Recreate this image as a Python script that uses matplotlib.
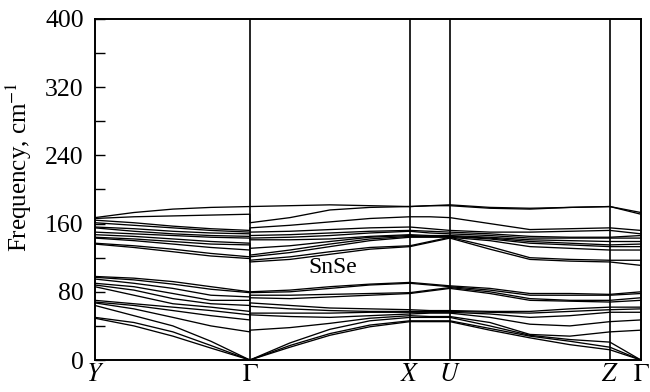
import matplotlib
matplotlib.use("Agg")
import matplotlib.pyplot as plt
import numpy as np

plt.rcParams['font.family'] = ['Liberation Serif', 'DejaVu Serif']
plt.rcParams['mathtext.fontset'] = 'stix'

# path coordinates of the sample points (Y .. G- | G+ .. X | mid | U .. Z | G)
kpath = [0, 39, 78, 116, 155, 155, 195, 235, 275, 315, 335, 355, 395, 435, 475, 515, 546]
sym_pos = [0, 155, 315, 355, 515, 546]
sym_labels = [r'$Y$', r'$\Gamma$', r'$X$', r'$U$', r'$Z$', r'$\Gamma$']

lower_bands = [
    [49, 40, 28, 14, 0,   0, 15, 29, 39, 45,  45, 45,  35, 26, 18, 12,  0],
    [50, 44, 33, 17, 0,   0, 17, 31, 41, 46,  46, 46,  37, 28, 22, 15,  0],
    [64, 52, 40, 22, 0,   0, 20, 36, 46, 50,  50, 50,  40, 29, 24, 21,  0],
    [67, 60, 50, 40, 33,  35, 38, 43, 49, 52, 51, 51,  44, 30, 28, 33, 35],
    [68, 64, 58, 52, 47,  53, 51, 50, 52, 54, 55, 55,  50, 42, 40, 45, 47],
    [70, 66, 62, 58, 53,  55, 55, 55, 56, 56, 56, 56,  54, 50, 52, 56, 56],
    [86, 76, 66, 62, 57,  63, 60, 58, 57, 57, 57, 57,  56, 55, 57, 59, 60],
    [88, 82, 72, 66, 64,  67, 64, 61, 60, 59, 58, 58,  57, 57, 60, 62, 62],
    [90, 86, 78, 70, 70,  73, 72, 74, 76, 78, 81, 84,  78, 70, 69, 68, 70],
    [95, 90, 84, 76, 74,  76, 76, 77, 78, 79, 82, 85,  80, 72, 70, 70, 73],
    [97, 94, 89, 83, 79,  79, 80, 84, 88, 90, 88, 86,  82, 76, 76, 76, 78],
    [98, 96, 92, 86, 80,  80, 82, 86, 89, 91, 89, 87,  84, 78, 78, 77, 80],
]

upper_bands = [
    [136, 132, 127, 122, 119,  115, 118, 124, 130, 133,  138, 143,  130, 118, 116, 115, 111],
    [137, 134, 130, 125, 121,  117, 121, 127, 132, 134,  139, 144,  133, 120, 118, 117, 117],
    [143, 140, 136, 132, 129,  121, 126, 133, 140, 144,  144, 144,  140, 133, 131, 129, 129],
    [144, 142, 139, 136, 135,  123, 129, 136, 142, 145,  145, 145,  142, 137, 135, 133, 133],
    [147, 145, 142, 139, 137,  131, 134, 139, 144, 146,  145, 145,  143, 139, 137, 135, 136],
    [150, 148, 146, 144, 143,  141, 141, 142, 145, 147,  146, 146,  144, 141, 140, 139, 139],
    [155, 151, 148, 146, 145,  143, 144, 146, 149, 151,  149, 148,  146, 143, 143, 143, 143],
    [156, 154, 151, 149, 148,  146, 147, 149, 151, 152,  151, 150,  148, 145, 144, 144, 146],
    [161, 158, 155, 152, 150,  150, 151, 153, 155, 156,  154, 152,  150, 150, 151, 152, 148],
    [164, 161, 157, 154, 152,  155, 158, 162, 166, 168,  168, 167,  160, 153, 154, 155, 152],
    [166, 168, 169, 170, 171,  161, 167, 176, 179, 180,  181, 181,  178, 177, 179, 180, 171],
    [167, 173, 177, 179, 180,  180, 181, 182, 181, 180,  181, 182,  179, 178, 179, 180, 173],
]

fig = plt.figure(figsize=(6.5, 3.92), dpi=100)
ax = fig.add_axes([0.146, 0.0816, 0.840, 0.870])

for band in lower_bands + upper_bands:
    ax.plot(kpath, band, color='black', lw=0.95, solid_joinstyle='round')

for xp in sym_pos[1:-1]:
    ax.axvline(xp, color='black', lw=1.2)

ax.set_xlim(sym_pos[0], sym_pos[-1])
ax.set_ylim(0, 400)

ax.set_xticks(sym_pos)
ax.set_xticklabels(sym_labels, fontsize=18.5)
ax.tick_params(axis='x', length=0, pad=3)

ax.set_yticks(np.arange(0, 401, 40))
ax.set_yticklabels([str(v) if v % 80 == 0 else '' for v in range(0, 401, 40)], fontsize=18.5)
ax.tick_params(axis='y', direction='in', length=7, width=1.0, pad=8)

for s in ax.spines.values():
    s.set_linewidth(1.4)

ax.set_ylabel(r'Frequency, cm$^{-1}$', fontsize=18)
ax.yaxis.set_label_coords(-0.112, 0.566)
ax.text(238, 108, 'SnSe', fontsize=17, ha='center', va='center')

fig.savefig('out.png', dpi=100)
